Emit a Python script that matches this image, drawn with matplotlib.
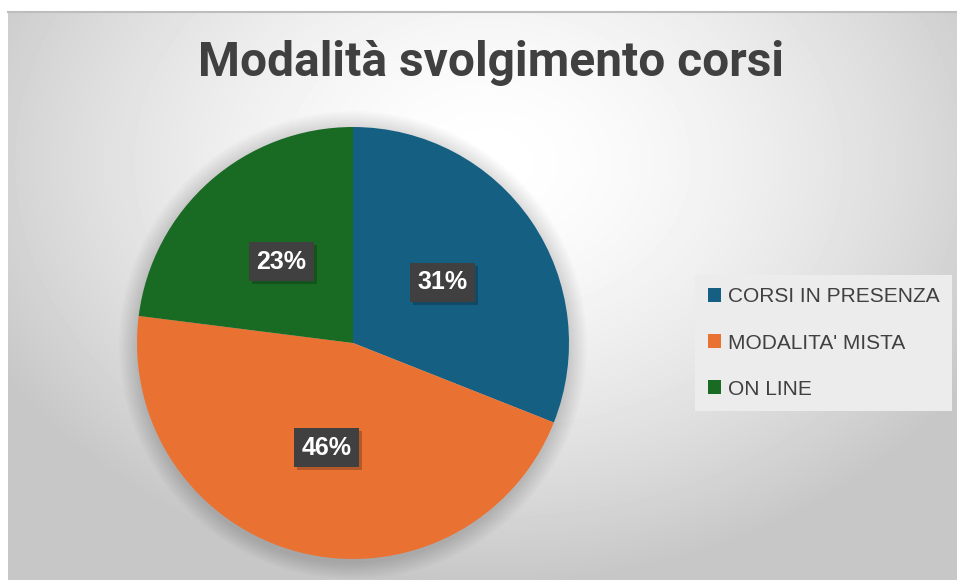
import numpy as np
import matplotlib
matplotlib.use("Agg")
import matplotlib.pyplot as plt
from matplotlib.patches import Circle, Rectangle
from matplotlib.transforms import IdentityTransform

# dati del grafico
categorie = ["CORSI IN PRESENZA", "MODALITA' MISTA", "ON LINE"]
valori = [31, 46, 23]
colori = ["#156082", "#E97132", "#196B24"]
titolo = "Modalità svolgimento corsi"

W, H = 957, 580
fig = plt.figure(figsize=(W / 100, H / 100), dpi=100)
fig.patch.set_facecolor("white")

# sfondo con sfumatura radiale (bianco al centro, grigio ai bordi)
bg = fig.add_axes([8 / W, 0, (W - 8) / W, (H - 12) / H])
yy, xx = np.mgrid[0:568, 0:949]
t = np.sqrt(((xx - 480) / 560.0) ** 2 + ((yy - 150) / 420.0) ** 2)
grad = np.clip(1.0 - 0.22 * t ** 1.6, 0.78, 1.0)
bg.imshow(grad, cmap="gray", vmin=0, vmax=1, aspect="auto", interpolation="bilinear")
bg.axis("off")
fig.add_artist(plt.Line2D([8 / W, 1], [(H - 12) / H] * 2, color="#bdbdbd", lw=1.5))

# torta
cx, cy, r = 353, 343, 216
ax = fig.add_axes([(cx - r) / W, (H - cy - r) / H, 2 * r / W, 2 * r / H])
ax.set_zorder(2)

# ombra morbida attorno alla torta
for k in range(12):
    ax.add_patch(Circle((0.0, -0.01), 1.0 + 0.007 * (12 - k), color="black",
                        alpha=0.013, lw=0, zorder=0, clip_on=False))

famiglia = ["Liberation Sans", "DejaVu Sans"]
wedges, testi, autotesti = ax.pie(valori, colors=colori, startangle=90, counterclock=False,
                                   autopct="%1.0f%%", pctdistance=0.5, radius=1,
                                   wedgeprops=dict(linewidth=0))
for w in wedges:
    w.set_zorder(1)
for a in autotesti:
    a.set_color("white")
    a.set_fontsize(18)
    a.set_fontweight("bold")
    a.set_family(famiglia)
    a.set_zorder(4)
    a.set_bbox(dict(boxstyle="square,pad=0.3", facecolor="#404040", edgecolor="none"))
ax.set_xlim(-1, 1)
ax.set_ylim(-1, 1)
ax.axis("off")

# ombra dietro le etichette, ricavata dal riquadro già disegnato
fig.canvas.draw()
for a in autotesti:
    bb = a.get_bbox_patch().get_window_extent()
    ax.add_patch(Rectangle((bb.x0 + 3, bb.y0 - 3), bb.width, bb.height,
                           transform=IdentityTransform(), facecolor="black",
                           alpha=0.22, lw=0, zorder=3, clip_on=False))

# titolo
fig.text(491 / W, 1 - 63 / H, titolo, ha="center", va="center", fontsize=34.5,
         fontweight="bold", color="#404040", family=["Roboto", "DejaVu Sans"])

# legenda
leg = fig.legend(wedges, categorie, loc="upper left",
                 bbox_to_anchor=(695 / W, 1 - 275 / H), frameon=True,
                 handlelength=0.65, handleheight=0.65,
                 handletextpad=0.35, labelspacing=1.3, borderpad=0.6,
                 borderaxespad=0, prop=dict(family=famiglia, size=15))
leg.get_frame().set_facecolor("#ececec")
leg.get_frame().set_edgecolor("none")
leg.get_frame().set_alpha(1)
leg.get_frame().set_boxstyle("square,pad=0")
for txt in leg.get_texts():
    txt.set_color("#404040")

fig.savefig("out.png", dpi=100)
